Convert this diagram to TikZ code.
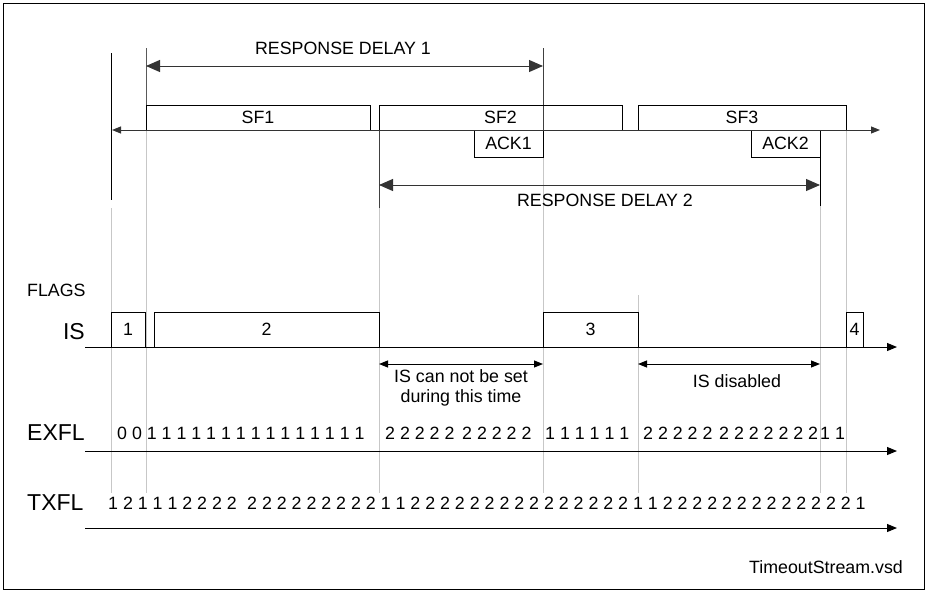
\documentclass[tikz,border=0pt]{standalone}
\usepackage{fontspec}
\setmainfont{Liberation Sans}
\usetikzlibrary{arrows.meta}

\tikzset{
    txt/.style={inner sep=0pt, font=\fontsize{17.8}{20}\selectfont},
    tag/.style={inner sep=0pt, font=\fontsize{23}{26}\selectfont},
    bits/.style={txt, anchor=west},
    frame/.style={draw, line width=1pt, inner sep=0pt, font=\fontsize{17.8}{20}\selectfont},
    guide/.style={black!22, line width=1pt},
    marker/.style={line width=1pt},
    delay/.style={{Triangle[length=14pt,width=12pt]}-{Triangle[length=14pt,width=12pt]}, line width=1pt},
    span/.style={{Triangle[length=9pt,width=7pt]}-{Triangle[length=9pt,width=7pt]}, line width=1pt},
    axis/.style={-{Triangle[length=10pt,width=8pt]}, line width=1pt},
}

\begin{document}
\begin{tikzpicture}[x=1pt,y=-1pt]
    \useasboundingbox (0,0) rectangle (927,592);
    \draw[line width=1pt] (3,3) rectangle (924,589);

    % light guides down to the flag rows
    \foreach \x/\y in {111/208, 146/130, 379/208, 543/157, 638/295, 820/206, 846/130}
        \draw[guide] (\x,\y) -- (\x,493);

    % dark markers
    \draw[marker] (111,53) -- (111,200);
    \draw[marker, black!65] (146,48) -- (146,130);
    \draw[marker, black!75] (379,105) -- (379,208);
    \draw[marker, black!75] (543,48) -- (543,157);
    \draw[marker] (820,157) -- (820,206);

    % frames on the stream
    \node[frame, minimum width=224pt, minimum height=25pt] (sf1) at (258,117.5) {SF1};
    \node[frame, minimum width=243pt, minimum height=25pt] (sf2) at (500.5,117.5) {SF2};
    \node[frame, minimum width=208pt, minimum height=25pt] (sf3) at (742,117.5) {SF3};
    \node[frame, minimum width=69pt, minimum height=27pt] (ack1) at (508.5,143.5) {ACK1};
    \node[frame, minimum width=69pt, minimum height=27pt] (ack2) at (785.5,143.5) {ACK2};

    \coordinate (streamL) at (112,130);
    \coordinate (streamR) at (880,130);
    \draw[span, black!80] (streamL) -- (streamR);

    \coordinate (rd1a) at (146,66);
    \coordinate (rd1b) at (543,66);
    \draw[delay, black!80] (rd1a) -- (rd1b);
    \node[txt] (rd1) at (343,48) {RESPONSE DELAY 1};

    \coordinate (rd2a) at (379,185);
    \coordinate (rd2b) at (820,185);
    \draw[delay, black!80] (rd2a) -- (rd2b);
    \node[txt] (rd2) at (605,200) {RESPONSE DELAY 2};

    % flags
    \node[txt, anchor=west] (flags) at (27,290) {FLAGS};
    \node[tag, anchor=east] (is) at (85,332) {IS};
    \node[tag, anchor=west] (exfl) at (27,433) {EXFL};
    \node[tag, anchor=west] (txfl) at (27,503) {TXFL};

    \node[frame, minimum width=34pt, minimum height=35pt] (p1) at (128,329.5) {1};
    \node[frame, minimum width=225pt, minimum height=35pt] (p2) at (266.5,329.5) {2};
    \node[frame, minimum width=95pt, minimum height=35pt] (p3) at (590.5,329.5) {3};
    \node[frame, minimum width=17pt, minimum height=35pt] (p4) at (854.5,329.5) {4};

    \coordinate (isL) at (85,347);
    \coordinate (isR) at (897,347);
    \draw[axis] (isL) -- (isR);
    \coordinate (exL) at (85,451);
    \coordinate (exR) at (897,451);
    \draw[axis] (exL) -- (exR);
    \coordinate (txL) at (85,528);
    \coordinate (txR) at (897,528);
    \draw[axis] (txL) -- (txR);

    \coordinate (lockA) at (379,364);
    \coordinate (lockB) at (543,364);
    \draw[span] (lockA) -- (lockB);
    \node[txt, align=center] (lock) at (461,388) {IS can not be set\\during this time};

    \coordinate (offA) at (638,364);
    \coordinate (offB) at (820,364);
    \draw[span] (offA) -- (offB);
    \node[txt] (isoff) at (737,381) {IS disabled};

    % flag values
    \node[bits] (ex1) at (117,433) {0 0 1 1 1 1 1 1 1 1 1 1 1 1 1 1 1};
    \node[bits] (ex2) at (385,433) {2 2 2 2 2};
    \node[bits] (ex3) at (462,433) {2 2 2 2 2};
    \node[bits] (ex4) at (545,433) {1 1 1 1 1 1};
    \node[bits] (ex5) at (643,433) {2 2 2 2 2};
    \node[bits] (ex6) at (719,433) {2 2 2 2 2 2 2};
    \node[bits] (ex7) at (820,433) {1 1};

    \node[bits] (tx1) at (108,503) {1 2 1 1 1 2 2 2 2};
    \node[bits] (tx2) at (247,503) {2 2 2 2 2 2 2 2 2 1 1 2 2 2 2 2 2 2 2 2 2 2 2 2 2 2 1 1 2 2 2 2 2 2 2 2 2 2 2 2 2 1};

    \node[txt, anchor=east] (file) at (903,567) {TimeoutStream.vsd};
\end{tikzpicture}
\end{document}
